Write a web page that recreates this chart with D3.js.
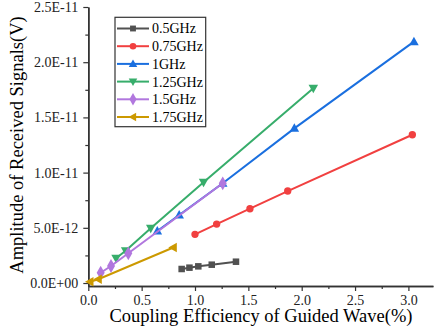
<!DOCTYPE html>
<html><head><meta charset="utf-8">
<script src="https://cdn.jsdelivr.net/npm/d3@7"></script>
<style>body{margin:0;background:#fff}svg{display:block}svg text{font-family:"Liberation Serif","Times New Roman",Times,serif}</style>
</head><body>
<svg id="c" width="434" height="333"></svg>
<script>
const seriesNames = ["0.5GHz","0.75GHz","1GHz","1.25GHz","1.5GHz","1.75GHz"];
const colors = ["#515151","#F14040","#1A6FDF","#37AD6B","#B177DE","#CC9900"];
const g05x = [0.875,0.948,1.031,1.157,1.384];
const g05y = [1.27e-12,1.39e-12,1.51e-12,1.66e-12,1.93e-12];
const g075x = [1.00,1.203,1.515,1.869,3.037];
const g075y = [4.41e-12,5.34e-12,6.73e-12,8.33e-12,1.343e-11];
const g1x = [0.647,0.852,1.26,1.931,3.052];
const g1y = [4.71e-12,6.16e-12,9.03e-12,1.401e-11,2.186e-11];
const g125x = [0.26,0.35,0.585,1.08,2.109];
const g125y = [2.24e-12,2.93e-12,4.95e-12,9.12e-12,1.764e-11];
const g15x = [0.116,0.213,0.375,1.26];
const g15y = [0.93e-12,1.54e-12,2.69e-12,9.03e-12];
const g175x = [0.016,0.094,0.797];
const g175y = [0.12e-12,0.34e-12,3.22e-12];
const xTicks = [0,0.5,1.0,1.5,2.0,2.5,3.0];
const xTickLabels = ["0.0","0.5","1.0","1.5","2.0","2.5","3.0"];
const yTicks = [0,5e-12,1e-11,1.5e-11,2e-11,2.5e-11];
const yTickLabels = ["0.0E+00","5.0E-12","1.0E-11","1.5E-11","2.0E-11","2.5E-11"];
const xTitle = "Coupling Efficiency of Guided Wave(%)";
const yTitle = "Amplitude of Received Signals(V)";

const allX = [g05x,g075x,g1x,g125x,g15x,g175x];
const allY = [g05y,g075y,g1y,g125y,g15y,g175y];
const symbols = [d3.symbolSquare,d3.symbolCircle,"up","down",d3.symbolDiamond,"left"];

const svg = d3.select("#c");
const x = d3.scaleLinear().domain([0,3.23]).range([88.3,88.3+3.23*106.7]);
const y = d3.scaleLinear().domain([-2.7e-13,2.5e-11]).range([286,283-2.5*110.4]);

const xAxis = d3.axisBottom(x).tickValues(xTicks).tickFormat((d,i)=>xTickLabels[i]).tickSize(5).tickSizeOuter(0);
const xMinor = d3.axisBottom(x).tickValues(d3.range(0.25,3.23,0.5)).tickFormat("").tickSize(3).tickSizeOuter(0);
const yAxis = d3.axisLeft(y).tickValues(yTicks).tickFormat((d,i)=>yTickLabels[i]).tickSize(5).tickSizeOuter(0);
const yMinor = d3.axisLeft(y).tickValues(d3.range(2.5e-12,2.5e-11,5e-12)).tickFormat("").tickSize(3).tickSizeOuter(0);

const axColor = "#333";
function style(g){
  g.attr("font-family",null);
  g.selectAll("path").attr("stroke",axColor).attr("stroke-width",1.5);
  g.selectAll("line").attr("stroke",axColor).attr("stroke-width",1.2);
  g.selectAll("text").style("font-size","14px").attr("fill","#222");
}
svg.append("g").attr("transform","translate(0,286)").call(xMinor).call(style);
svg.append("g").attr("transform","translate(0,286)").call(xAxis).call(style).selectAll("text").attr("dy","0.75em");
svg.append("g").attr("transform","translate(88.3,0)").call(yMinor).call(style);
svg.append("g").attr("transform","translate(88.3,0)").call(yAxis).call(style).selectAll("text").attr("dx","-0.15em");

svg.append("text").attr("x",261).attr("y",322).attr("text-anchor","middle")
  .style("font-size","18.5px").text(xTitle);
svg.append("text").attr("transform","translate(22.5,145) rotate(-90)").attr("text-anchor","middle")
  .style("font-size","18.5px").text(yTitle);

function marker(sel, s, size){
  if (typeof s === "string"){
    const r = size;
    let pts;
    if (s==="up") pts = [[0,-r],[r*0.95,r*0.7],[-r*0.95,r*0.7]];
    else if (s==="down") pts = [[0,r],[r*0.95,-r*0.7],[-r*0.95,-r*0.7]];
    else pts = [[-r,0],[r*0.7,-r*0.95],[r*0.7,r*0.95]];
    return sel.append("path").attr("d","M"+pts.map(p=>p.join(",")).join("L")+"Z");
  }
  return sel.append("path").attr("d",d3.symbol().type(s).size(size*size*(s===d3.symbolDiamond?2.2:1.7))());
}

const line = d3.line().x(d=>x(d[0])).y(d=>y(d[1]));
allX.forEach((xs,i)=>{
  const pts = xs.map((v,j)=>[v,allY[i][j]]);
  const g = svg.append("g");
  g.append("path").attr("d",line(pts)).attr("fill","none").attr("stroke",colors[i]).attr("stroke-width",2);
  pts.forEach(p=>{
    marker(g.append("g").attr("transform",`translate(${x(p[0])},${y(p[1])})`), symbols[i], 5).attr("fill",colors[i]);
  });
});

const lg = svg.append("g");
lg.append("rect").attr("x",115).attr("y",17.3).attr("width",90.7).attr("height",109.4)
  .attr("fill","#fff").attr("stroke","#333").attr("stroke-width",1.2);
seriesNames.forEach((n,i)=>{
  const yy = 28.5 + i*17.7;
  lg.append("line").attr("x1",117).attr("x2",149).attr("y1",yy).attr("y2",yy).attr("stroke",colors[i]).attr("stroke-width",2);
  marker(lg.append("g").attr("transform",`translate(133,${yy})`), symbols[i], 4.5).attr("fill",colors[i]);
  lg.append("text").attr("x",152).attr("y",yy).attr("dy","0.35em").style("font-size","14px").text(n);
});
</script>
</body></html>
